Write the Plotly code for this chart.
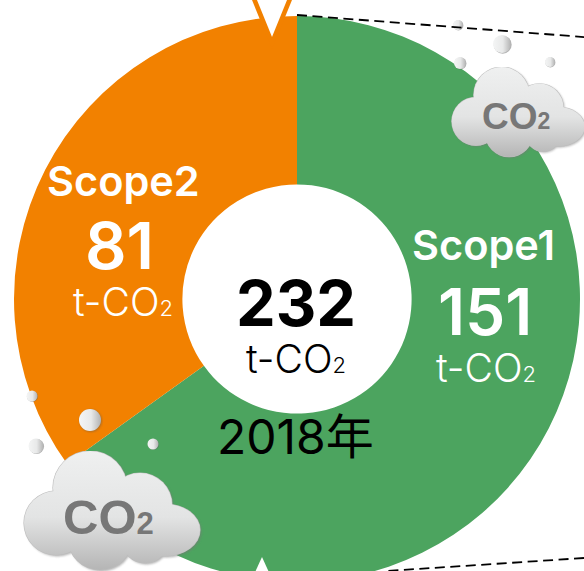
import base64
import plotly.graph_objects as go

# ---------- data ----------
scope_labels = ["Scope1", "Scope2"]
scope_values = [151, 81]
total_value = 232
year_label = "2018年"
slice_colors = ["#4CA45F", "#F28100"]

W, H = 594, 598
R = 283
def px(x): return x / W
def py(y): return 1 - y / H

fig = go.Figure(go.Pie(
    labels=scope_labels, values=scope_values, sort=False, direction="clockwise",
    rotation=0, hole=0.405, textinfo="none", hoverinfo="label+value",
    marker=dict(colors=slice_colors, line=dict(width=0)),
    domain=dict(x=[0.5 - R / W, 0.5 + R / W], y=[0.5 - R / H, 0.5 + R / H]),
    showlegend=False,
))

# ---------- cloud & bubble artwork ----------
CLOUD = """<svg xmlns='http://www.w3.org/2000/svg' width='190' height='130' viewBox='0 0 190 130'>
<defs><linearGradient id='g' gradientUnits='userSpaceOnUse' x1='0' y1='0' x2='0' y2='120'>
<stop offset='0' stop-color='#EFF0F0'/><stop offset='0.55' stop-color='#E3E4E4'/><stop offset='1' stop-color='#B4B4B4'/></linearGradient>
<filter id='s' x='-10%' y='-10%' width='120%' height='120%'><feGaussianBlur stdDeviation='1.2'/></filter></defs>
<g id='o' fill='#777' opacity='0.55' filter='url(#s)' transform='translate(1.5,1.5)'>
<circle cx='67' cy='37' r='37'/><circle cx='117' cy='54' r='32'/><ellipse cx='142' cy='79' rx='35' ry='26'/><circle cx='33' cy='72' r='32'/><circle cx='77' cy='87' r='32'/><circle cx='122' cy='89' r='23'/></g>
<g fill='#BDBDBD'>
<circle cx='67' cy='37' r='37.6'/><circle cx='117' cy='54' r='32.6'/><ellipse cx='142' cy='79' rx='35.6' ry='26.6'/><circle cx='33' cy='72' r='32.6'/><circle cx='77' cy='87' r='32.6'/><circle cx='122' cy='89' r='23.6'/></g>
<g fill='url(#g)'>
<circle cx='67' cy='37' r='37'/><circle cx='117' cy='54' r='32'/><ellipse cx='142' cy='79' rx='35' ry='26'/><circle cx='33' cy='72' r='32'/><circle cx='77' cy='87' r='32'/><circle cx='122' cy='89' r='23'/><rect x='35' y='45' width='100' height='50'/></g>
</svg>"""
BUBBLE = """<svg xmlns='http://www.w3.org/2000/svg' width='48' height='48' viewBox='0 0 48 48'>
<defs><linearGradient id='b' x1='0' y1='0' x2='1' y2='0'><stop offset='0' stop-color='#F4F5F5'/><stop offset='0.55' stop-color='#E8E9E9'/><stop offset='1' stop-color='#B2B2B2'/></linearGradient>
<filter id='s'><feGaussianBlur stdDeviation='1.5'/></filter></defs>
<circle cx='25.5' cy='25.5' r='20' fill='#555' opacity='0.45' filter='url(#s)'/>
<circle cx='24' cy='24' r='20' fill='url(#b)'/></svg>"""
def uri(svg): return "data:image/svg+xml;base64," + base64.b64encode(svg.encode()).decode()

images = []
def place(svg, x, y, w, h):
    images.append(dict(source=uri(svg), xref="paper", yref="paper", x=px(x), y=py(y),
                       sizex=w / W, sizey=h / H, xanchor="left", yanchor="top",
                       sizing="stretch", layer="above"))
place(CLOUD, 23, 451, 190, 130)
place(CLOUD, 451, 67, 190 * 0.755, 130 * 0.755)
for cx, cy, r in [(458, 25, 5), (502, 44, 9), (460, 63, 6), (550, 62, 5),
                  (32, 396, 5.5), (90, 420, 11), (36, 446, 7.5), (153, 444, 5.5)]:
    k = r / 20
    place(BUBBLE, cx - 24 * k, cy - 24 * k, 48 * k, 48 * k)

# ---------- shapes ----------
def path(pts):
    return "M " + " L ".join(f"{px(a)} {py(b)}" for a, b in pts) + " Z"
shapes = [
    dict(type="path", xref="paper", yref="paper", path=path([(252, 0), (272, 49), (292, 0)]),
         fillcolor="#F28100", line=dict(width=0), layer="above"),
    dict(type="path", xref="paper", yref="paper", path=path([(257, 0), (272, 37), (287, 0)]),
         fillcolor="white", line=dict(width=0), layer="above"),
    dict(type="path", xref="paper", yref="paper", path=path([(262, 557), (247, 590), (277, 590)]),
         fillcolor="white", line=dict(width=0), layer="above"),
    dict(type="line", xref="paper", yref="paper", x0=px(297), y0=py(15), x1=px(590), y1=py(37.5),
         line=dict(color="black", width=1.8, dash="10px,5.5px"), layer="above"),
    dict(type="line", xref="paper", yref="paper", x0=px(584), y0=py(558), x1=px(387), y1=py(571),
         line=dict(color="black", width=1.8, dash="10px,5.5px"), layer="above"),
]

# ---------- text ----------
INTER = "Inter, Noto Sans CJK JP, sans-serif"
def label(text, x, y, size, color, weight=400, family=INTER):
    fig.add_annotation(text=text, x=px(x), y=py(y), xref="paper", yref="paper", showarrow=False,
                       xanchor="center", yanchor="middle",
                       font=dict(family=family, size=size, color=color, weight=weight))
def unit(x, y, color):
    label('t-CO<span style="font-size:22px">2</span>', x, y, 39, color, 300)

label(scope_labels[0], 483, 245, 41.5, "white", 600)
label(str(scope_values[0]), 485, 311, 64, "white", 600)
unit(486, 367, "white")
label(scope_labels[1], 123, 181, 41.5, "white", 600)
label(str(scope_values[1]), 119, 246, 65, "white", 600)
unit(123, 301, "white")
label(str(total_value), 296, 303, 63, "black", 700)
unit(296, 358, "black")
label(year_label, 295, 436, 48, "black", 400)
label('CO<span style="font-size:31px">2</span>', 108, 517, 49, "#777777", 700, "Liberation Sans")
label('CO<span style="font-size:23px">2</span>', 516, 117, 37, "#777777", 700, "Liberation Sans")

fig.update_layout(width=W, height=H, margin=dict(l=0, r=0, t=0, b=0),
                  paper_bgcolor="white", images=images, shapes=shapes)
fig.write_html("out.html", config=dict(displayModeBar=False),
               post_script="document.documentElement.style.overflow='hidden';document.body.style.overflow='hidden';document.body.style.margin='0';")
